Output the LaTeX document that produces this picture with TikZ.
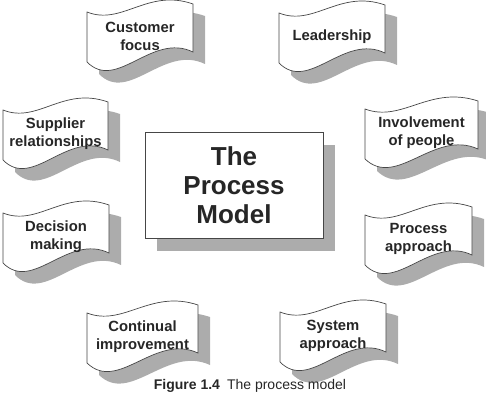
\documentclass[tikz,border=0pt]{standalone}
\usepackage{fontspec}
\setmainfont{Liberation Sans}
\usetikzlibrary{calc,shadows}
\definecolor{shadowgray}{RGB}{172,172,172}
\definecolor{edgegray}{RGB}{70,70,70}
\tikzset{
  flagtext/.style={align=center, font=\fontsize{14.8}{18}\selectfont\bfseries, text=black!85},
  flagline/.style={draw=edgegray, line width=0.7pt, fill=white},
  flagshadow/.style={fill=shadowgray},
  modelbox/.style={draw=edgegray, line width=0.7pt, fill=white, minimum width=178pt, minimum height=106pt,
    general shadow={fill=shadowgray, shadow xshift=12pt, shadow yshift=-13pt},
    align=center, font=\fontsize{26}{29}\selectfont\bfseries, text=black!85},
}
% #1 name, #2 x, #3 y (top-left corner), #4 width, #5 text
\newcommand{\flagat}[5]{%
  \begin{scope}[shift={(#2+12,#3+12)}]
    \fill[flagshadow] (0,0) .. controls (0.33*#4,14) and (0.57*#4,-24) .. (#4,-8)
      -- (#4,40) .. controls (0.61*#4,20) and (0.28*#4,80) .. (0,50) -- cycle;
  \end{scope}
  \begin{scope}[shift={(#2,#3)}]
    \draw[flagline] (0,0) .. controls (0.33*#4,14) and (0.57*#4,-24) .. (#4,-8)
      -- (#4,40) .. controls (0.61*#4,20) and (0.28*#4,80) .. (0,50) -- cycle;
  \end{scope}
  \node[flagtext] (#1) at (#2+#4/2,#3+24) {#5};
}
\begin{document}
\begin{tikzpicture}[x=1pt,y=-1pt]
  \useasboundingbox (0,0) rectangle (486,401);
  \flagat{cust}{87}{12}{106}{Customer\\focus}
  \flagat{lead}{279}{13}{106}{Leadership}
  \flagat{supp}{3}{110}{105}{Supplier\\relationships}
  \flagat{invo}{365}{109}{113}{Involvement\\of people}
  \flagat{deci}{3}{213}{106}{Decision\\making}
  \flagat{proc}{365}{215}{107}{Process\\approach}
  \flagat{cont}{87}{313}{111}{Continual\\improvement}
  \flagat{syst}{280}{312}{106}{System\\approach}
  \node[modelbox] (model) at (234,185) {The\\Process\\Model};
  \node[font=\fontsize{14}{16}\selectfont, text=black!85] (caption) at (250,386)
    {\textbf{Figure 1.4}\enspace The process model};
\end{tikzpicture}
\end{document}
